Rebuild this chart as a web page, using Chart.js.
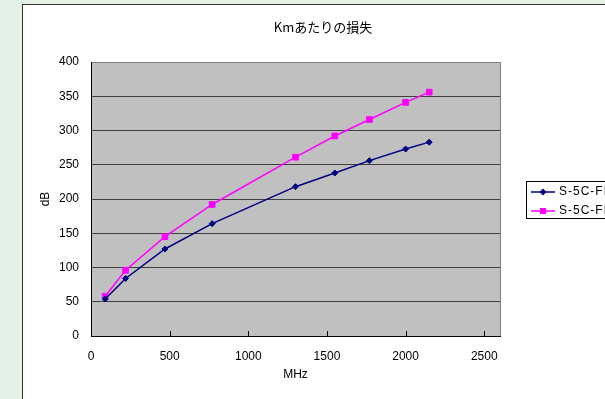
<!DOCTYPE html>
<html>
<head>
<meta charset="utf-8">
<script src="https://cdn.jsdelivr.net/npm/chart.js"></script>
<style>
  body { margin: 0; background: #e3f1e6; overflow: hidden; width: 605px; height: 399px; }
  #panel { position: absolute; left: 22px; top: 4px; width: 640px; height: 430px; background: #fff; border: 1px solid #333; box-sizing: border-box; }
  #grafico { position: absolute; left: 23px; top: 5px; }
</style>
</head>
<body>
<div id="panel"></div>
<canvas id="grafico" width="600" height="394"></canvas>
<script>
// datos
const frecuencias = [90, 220, 470, 770, 1300, 1550, 1770, 2000, 2150];
const perdidaAzul = [54, 84, 127, 164, 218, 238, 256, 273, 283];
const perdidaRosa = [58, 96, 145, 192, 261, 292, 316, 341, 356];
const nombres = ["S-5C-FB", "S-5C-FB"];
const ticksX = [0, 500, 1000, 1500, 2000, 2500];

const fuente = "'Liberation Sans', Arial, sans-serif";

function puntos(valores) {
  let res = [];
  for (let i = 0; i < frecuencias.length; i++) {
    res.push({ x: frecuencias[i], y: valores[i] });
  }
  return res;
}

// fondo gris del area de trazado y marcas interiores del eje X
const fondoPlot = {
  id: "fondoPlot",
  beforeDraw(chart) {
    const { ctx, chartArea: a } = chart;
    ctx.save();
    ctx.fillStyle = "#c0c0c0";
    ctx.fillRect(a.left, a.top, a.right - a.left, a.bottom - a.top);
    ctx.restore();
  },
  beforeDatasetsDraw(chart) {
    const { ctx, chartArea: a, scales } = chart;
    ctx.save();
    ctx.strokeStyle = "#808080";
    ctx.lineWidth = 1;
    ctx.beginPath();
    ctx.moveTo(Math.round(a.right) + 0.5, a.top);
    ctx.lineTo(Math.round(a.right) + 0.5, a.bottom);
    ctx.stroke();
    ctx.strokeStyle = "#000";
    ctx.beginPath();
    ticksX.forEach(v => {
      if (v === 0) return;
      const x = Math.round(scales.x.getPixelForValue(v)) + 0.5;
      ctx.moveTo(x, a.bottom);
      ctx.lineTo(x, a.bottom - 5);
    });
    ctx.stroke();
    ctx.restore();
  }
};

// leyenda a la derecha con borde (queda cortada por el borde de la ventana)
const leyenda = {
  id: "leyenda",
  afterDraw(chart) {
    const ctx = chart.ctx;
    ctx.save();
    ctx.strokeStyle = "#000";
    ctx.lineWidth = 1;
    ctx.strokeRect(503.5, 176.5, 200, 37);
    const filas = [187, 206];
    chart.data.datasets.forEach((ds, i) => {
      const y = filas[i];
      ctx.strokeStyle = ds.borderColor;
      ctx.lineWidth = 1.5;
      ctx.beginPath();
      ctx.moveTo(508, y);
      ctx.lineTo(532, y);
      ctx.stroke();
      ctx.fillStyle = ds.pointBackgroundColor;
      ctx.beginPath();
      if (ds.pointStyle === "rectRot") {
        ctx.moveTo(520, y - 3.5);
        ctx.lineTo(523.5, y);
        ctx.lineTo(520, y + 3.5);
        ctx.lineTo(516.5, y);
        ctx.closePath();
      } else {
        ctx.rect(517, y - 3, 6, 6);
      }
      ctx.fill();
      ctx.fillStyle = "#000";
      ctx.font = "12px " + fuente;
      ctx.letterSpacing = "1px";
      ctx.textBaseline = "middle";
      ctx.fillText(ds.label, 536, y);
    });
    ctx.restore();
  }
};

const ctx = document.getElementById("grafico");

new Chart(ctx, {
  type: "line",
  data: {
    datasets: [
      {
        label: nombres[0],
        data: puntos(perdidaAzul),
        borderColor: "#000080",
        backgroundColor: "#000080",
        pointBackgroundColor: "#000080",
        pointBorderColor: "#000080",
        pointStyle: "rectRot",
        pointRadius: 3,
        pointBorderWidth: 1,
        borderWidth: 1.5,
        tension: 0
      },
      {
        label: nombres[1],
        data: puntos(perdidaRosa),
        borderColor: "#ff00ff",
        backgroundColor: "#ff00ff",
        pointBackgroundColor: "#ff00ff",
        pointBorderColor: "#ff00ff",
        pointStyle: "rect",
        pointRadius: 4,
        pointBorderWidth: 1,
        borderWidth: 1.5,
        tension: 0
      }
    ]
  },
  options: {
    responsive: false,
    animation: false,
    devicePixelRatio: 1,
    layout: { padding: 0 },
    plugins: {
      legend: { display: false },
      tooltip: { enabled: false },
      title: {
        display: true,
        text: "Kmあたりの損失",
        color: "#000",
        font: { family: "'Noto Sans CJK JP', sans-serif", size: 13, weight: "normal", lineHeight: 1 },
        padding: { top: 16, bottom: 28 }
      }
    },
    scales: {
      x: {
        type: "linear",
        min: 0,
        max: 2600,
        afterBuildTicks: (scale) => {
          scale.ticks = ticksX.map(v => ({ value: v }));
        },
        afterFit: (scale) => { scale.height = 63; },
        grid: { display: false, drawTicks: false },
        border: { display: true, color: "#000", width: 1 },
        ticks: {
          color: "#000", padding: 13, maxRotation: 0,
          font: { family: fuente, size: 12 },
          callback: (v) => String(v)
        },
        title: {
          display: true,
          text: "MHz",
          color: "#000",
          font: { family: fuente, size: 12 },
          padding: { top: 0, bottom: 17 }
        }
      },
      y: {
        min: 0,
        max: 400,
        afterFit: (scale) => { scale.width = 68; },
        grid: {
          drawTicks: false,
          color: (c) => {
            if (c.tick.value === 400) return "#808080";
            if (c.tick.value === 0) return "#000";
            return "#404040";
          }
        },
        border: { display: true, color: "#000", width: 1 },
        ticks: { stepSize: 50, color: "#000", padding: 12, font: { family: fuente, size: 12 } },
        title: {
          display: true,
          text: "dB",
          color: "#000",
          font: { family: fuente, size: 12 },
          padding: { top: 15, bottom: 0 }
        }
      },
      // eje vacio a la derecha, solo reserva el hueco de la leyenda
      derecha: {
        type: "linear",
        position: "right",
        afterFit: (scale) => { scale.width = 123; },
        grid: { display: false, drawTicks: false },
        border: { display: false },
        ticks: { display: false }
      }
    }
  },
  plugins: [fondoPlot, leyenda]
});
</script>
</body>
</html>
